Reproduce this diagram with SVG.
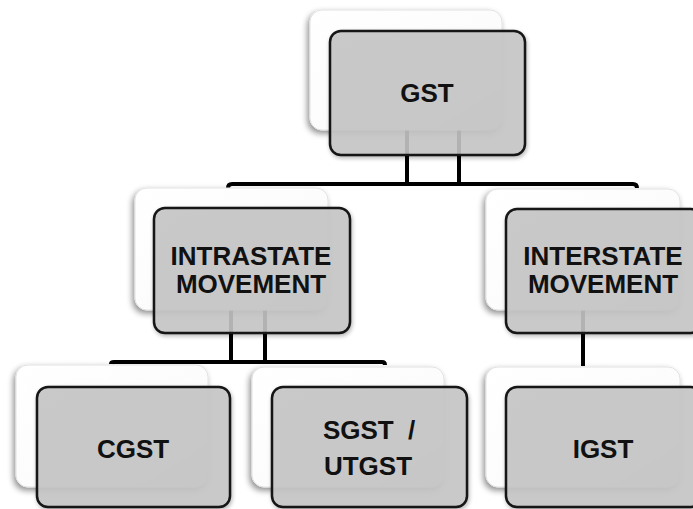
<svg xmlns="http://www.w3.org/2000/svg" width="693" height="509" viewBox="0 0 693 509">
<defs>
<filter id="sh" x="-20%" y="-20%" width="140%" height="140%">
<feGaussianBlur in="SourceAlpha" stdDeviation="3"/>
<feOffset dx="-2" dy="3" result="b"/>
<feComponentTransfer><feFuncA type="linear" slope="0.45"/></feComponentTransfer>
<feMerge><feMergeNode/><feMergeNode in="SourceGraphic"/></feMerge>
</filter>
<filter id="sh2" x="-20%" y="-20%" width="140%" height="140%">
<feGaussianBlur in="SourceAlpha" stdDeviation="2"/>
<feOffset dx="1" dy="2" result="b"/>
<feComponentTransfer><feFuncA type="linear" slope="0.3"/></feComponentTransfer>
<feMerge><feMergeNode/><feMergeNode in="SourceGraphic"/></feMerge>
</filter>
<linearGradient id="bg" x1="0" y1="0" x2="1" y2="1">
<stop offset="0" stop-color="#ffffff"/>
<stop offset="0.7" stop-color="#fbfbfb"/>
<stop offset="1" stop-color="#e6e6e6"/>
</linearGradient>
</defs>
<style>
.back{fill:url(#bg);stroke:#e2e2e2;stroke-width:1;filter:url(#sh)}
.front{fill:#c6c6c6;fill-opacity:0.88;stroke:#161616;stroke-width:2.5;filter:url(#sh2)}
.t{font-family:"Liberation Sans",Arial,sans-serif;font-weight:bold;font-size:26px;fill:#111;text-anchor:middle}
.c{fill:none;stroke:#000;stroke-width:4}
</style>
<rect width="693" height="509" fill="#ffffff"/>
<g id="connectors">
<path class="c" d="M407,130 V184 M459,130 V184"/>
<path class="c" d="M228,188 Q228,184 232,184 L633,184 Q637,184 637,188"/>
<path class="c" d="M231,310 V362 M265,310 V362"/>
<path class="c" d="M111,364 Q111,362 114,362 L382,362 Q385,362 385,365"/>
<path class="c" d="M583,310 V366"/>
</g>
<g id="node-gst">
<rect class="back" x="310" y="10" width="192" height="120" rx="12"/>
<rect class="front" x="330" y="31" width="195" height="124" rx="11"/>
<text class="t" x="427" y="102">GST</text>
</g>
<g id="node-intrastate">
<rect class="back" x="135" y="188" width="193" height="122" rx="12"/>
<rect class="front" x="154" y="208" width="196" height="125" rx="11"/>
<text class="t" x="251" y="265">INTRASTATE</text>
<text class="t" x="251" y="293">MOVEMENT</text>
</g>
<g id="node-interstate">
<rect class="back" x="486" y="189" width="194" height="121" rx="12"/>
<rect class="front" x="506" y="209" width="196" height="124" rx="11"/>
<text class="t" x="603" y="265">INTERSTATE</text>
<text class="t" x="603" y="293">MOVEMENT</text>
</g>
<g id="node-cgst">
<rect class="back" x="16" y="365" width="192" height="122" rx="12"/>
<rect class="front" x="37" y="387" width="193" height="120" rx="11"/>
<text class="t" x="133" y="458">CGST</text>
</g>
<g id="node-sgst">
<rect class="back" x="252" y="367" width="192" height="120" rx="12"/>
<rect class="front" x="272" y="387" width="195" height="120" rx="11"/>
<text class="t" x="369" y="439" style="word-spacing:7px">SGST /</text>
<text class="t" x="368" y="475">UTGST</text>
</g>
<g id="node-igst">
<rect class="back" x="486" y="367" width="194" height="120" rx="12"/>
<rect class="front" x="506" y="387" width="196" height="120" rx="11"/>
<text class="t" x="603" y="458">IGST</text>
</g>
</svg>
